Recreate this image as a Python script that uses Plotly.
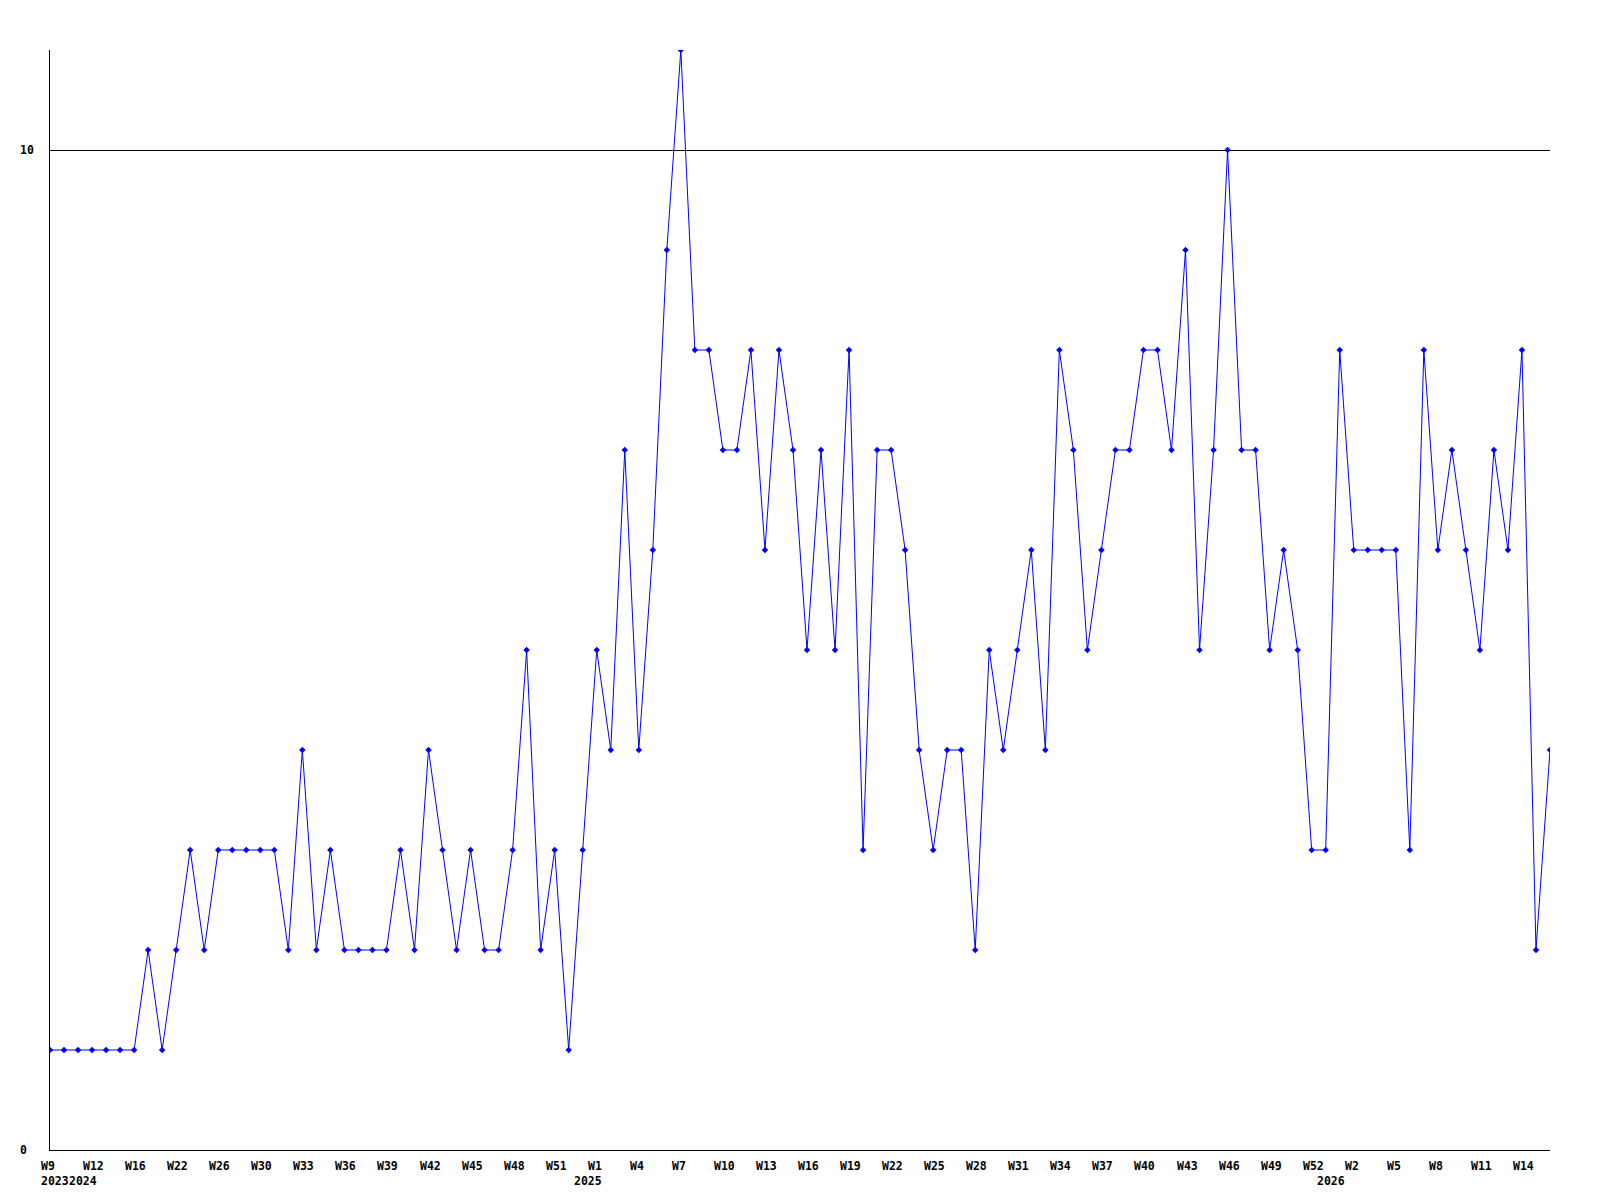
import plotly.graph_objects as go

# weekly counts (108 consecutive data points)
counts = [1, 1, 1, 1, 1, 1, 1, 2, 1, 2,
          3, 2, 3, 3, 3, 3, 3, 2, 4, 2,
          3, 2, 2, 2, 2, 3, 2, 4, 3, 2,
          3, 2, 2, 3, 5, 2, 3, 1, 3, 5,
          4, 7, 4, 6, 9, 11, 8, 8, 7, 7,
          8, 6, 8, 7, 5, 7, 5, 8, 3, 7,
          7, 6, 4, 3, 4, 4, 2, 5, 4, 5,
          6, 4, 8, 7, 5, 6, 7, 7, 8, 8,
          7, 9, 5, 7, 10, 7, 7, 5, 6, 5,
          3, 3, 8, 6, 6, 6, 6, 3, 8, 6,
          7, 6, 5, 7, 6, 8, 2, 4]

# week tick labels, one every third point
week_labels = ["W9", "W12", "W16", "W22", "W26", "W30", "W33", "W36", "W39", "W42",
               "W45", "W48", "W51", "W1", "W4", "W7", "W10", "W13", "W16", "W19",
               "W22", "W25", "W28", "W31", "W34", "W37", "W40", "W43", "W46", "W49",
               "W52", "W2", "W5", "W8", "W11", "W14"]
label_step = 3

# year labels and the point index they sit under
year_labels = ["2023", "2024", "2025", "2026"]
year_pos = [0, 2, 38, 91]

y_tick_vals = [0, 10]

x_idx = list(range(len(counts)))
x_max = len(counts) - 1
font = dict(family="DejaVu Sans Mono", size=11.5, color="black", weight="bold")

fig = go.Figure()
fig.add_trace(go.Scatter(
    x=x_idx, y=counts, mode="lines+markers",
    line=dict(color="#0000ff", width=1),
    marker=dict(color="#0000ff", size=5, symbol="diamond"),
    showlegend=False, hoverinfo="x+y",
))

# page body has an 8px default margin, so the figure is sized to compensate
fig.update_layout(
    width=1584, height=1184,
    margin=dict(l=42, r=42, t=42, b=42, autoexpand=False),
    paper_bgcolor="white", plot_bgcolor="white",
    font=font,
    xaxis=dict(
        range=[0, x_max],
        showticklabels=False,
        showgrid=False, zeroline=False,
        showline=True, linecolor="black", linewidth=1,
        ticks="",
    ),
    yaxis=dict(
        range=[0, 11],
        tickmode="array", tickvals=y_tick_vals,
        showticklabels=False,
        showgrid=True, gridcolor="black", gridwidth=1,
        zeroline=False,
        showline=True, linecolor="black", linewidth=1,
        ticks="",
    ),
)

annotations = []
for i, lab in enumerate(week_labels):
    annotations.append(dict(
        x=i * label_step / x_max, y=0, xref="paper", yref="paper", text=lab,
        showarrow=False, xanchor="left", yanchor="middle",
        xshift=-11, yshift=-15.5, font=font,
    ))
for lab, pos in zip(year_labels, year_pos):
    annotations.append(dict(
        x=pos / x_max, y=0, xref="paper", yref="paper", text=lab, showarrow=False,
        xanchor="left", yanchor="middle", xshift=-11, yshift=-31, font=font,
    ))
for v in y_tick_vals:
    annotations.append(dict(
        x=0, y=v, xref="paper", yref="y", text=str(v), showarrow=False,
        xanchor="left", yanchor="middle", xshift=-32, font=font,
    ))
fig.update_layout(annotations=annotations)

fig.write_html("out.html")
